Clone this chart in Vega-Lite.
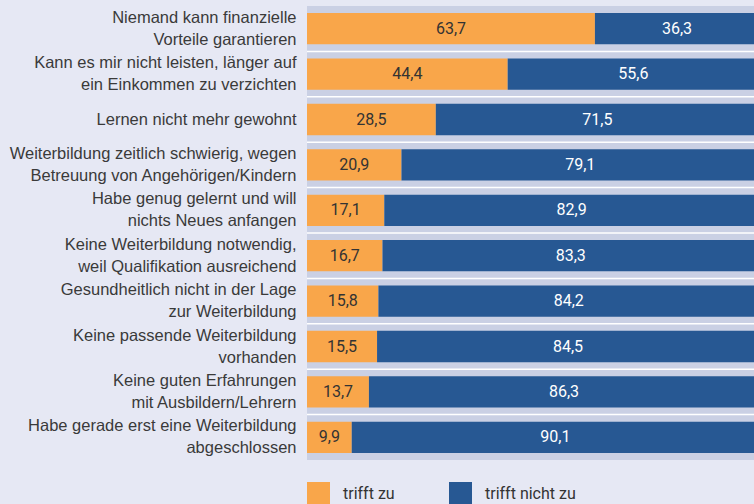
{
  "$schema": "https://vega.github.io/schema/vega-lite/v6.json",
  "width": 452,
  "height": 454,
  "autosize": "none",
  "padding": {"left": 307, "top": 6, "right": 0, "bottom": 44},
  "background": "#e6e8f4",
  "config": {
    "view": {"stroke": null},
    "locale": {"number": {"decimal": ",", "thousands": ".", "grouping": [3], "currency": ["", " €"]}}
  },
  "data": {
    "values": [
      {"label": "Niemand kann finanzielle|Vorteile garantieren", "cat": "trifft zu", "value": 63.7},
      {"label": "Niemand kann finanzielle|Vorteile garantieren", "cat": "trifft nicht zu", "value": 36.3},
      {"label": "Kann es mir nicht leisten, länger auf|ein Einkommen zu verzichten", "cat": "trifft zu", "value": 44.4},
      {"label": "Kann es mir nicht leisten, länger auf|ein Einkommen zu verzichten", "cat": "trifft nicht zu", "value": 55.6},
      {"label": "Lernen nicht mehr gewohnt", "cat": "trifft zu", "value": 28.5},
      {"label": "Lernen nicht mehr gewohnt", "cat": "trifft nicht zu", "value": 71.5},
      {"label": "Weiterbildung zeitlich schwierig, wegen|Betreuung von Angehörigen/Kindern", "cat": "trifft zu", "value": 20.9},
      {"label": "Weiterbildung zeitlich schwierig, wegen|Betreuung von Angehörigen/Kindern", "cat": "trifft nicht zu", "value": 79.1},
      {"label": "Habe genug gelernt und will|nichts Neues anfangen", "cat": "trifft zu", "value": 17.1},
      {"label": "Habe genug gelernt und will|nichts Neues anfangen", "cat": "trifft nicht zu", "value": 82.9},
      {"label": "Keine Weiterbildung notwendig,|weil Qualifikation ausreichend", "cat": "trifft zu", "value": 16.7},
      {"label": "Keine Weiterbildung notwendig,|weil Qualifikation ausreichend", "cat": "trifft nicht zu", "value": 83.3},
      {"label": "Gesundheitlich nicht in der Lage|zur Weiterbildung", "cat": "trifft zu", "value": 15.8},
      {"label": "Gesundheitlich nicht in der Lage|zur Weiterbildung", "cat": "trifft nicht zu", "value": 84.2},
      {"label": "Keine passende Weiterbildung|vorhanden", "cat": "trifft zu", "value": 15.5},
      {"label": "Keine passende Weiterbildung|vorhanden", "cat": "trifft nicht zu", "value": 84.5},
      {"label": "Keine guten Erfahrungen|mit Ausbildern/Lehrern", "cat": "trifft zu", "value": 13.7},
      {"label": "Keine guten Erfahrungen|mit Ausbildern/Lehrern", "cat": "trifft nicht zu", "value": 86.3},
      {"label": "Habe gerade erst eine Weiterbildung|abgeschlossen", "cat": "trifft zu", "value": 9.9},
      {"label": "Habe gerade erst eine Weiterbildung|abgeschlossen", "cat": "trifft nicht zu", "value": 90.1}
    ]
  },
  "encoding": {
    "y": {
      "field": "label",
      "type": "nominal",
      "sort": null,
      "scale": {"paddingInner": 0, "paddingOuter": 0},
      "axis": {
        "title": null,
        "domain": false,
        "ticks": false,
        "grid": false,
        "labelPadding": 11,
        "labelExpr": "split(datum.value, '|')",
        "labelFont": "Liberation Sans",
        "labelFontSize": 16.5,
        "labelColor": "#3a3a3a",
        "labelLineHeight": 22,
        "labelLimit": 400,
        "labelOffset": {"condition": {"test": "indexof(datum.value, '|') >= 0", "value": -11}, "value": 0}
      }
    }
  },
  "layer": [
    {
      "transform": [{"filter": "datum.cat === 'trifft zu'"}],
      "mark": {"type": "bar", "color": "#cad0e4"},
      "encoding": {
        "x": {"datum": 0, "type": "quantitative", "scale": {"domain": [0, 100], "nice": false}, "axis": null},
        "x2": {"datum": 100}
      }
    },
    {
      "transform": [{"filter": "datum.cat === 'trifft zu' && indexof(datum.label, 'Niemand') < 0"}],
      "mark": {"type": "rule", "color": "#ffffff", "strokeWidth": 1.5},
      "encoding": {
        "y": {"field": "label", "type": "nominal", "sort": null, "bandPosition": 0},
        "x": {"datum": 0, "type": "quantitative"},
        "x2": {"datum": 100}
      }
    },
    {
      "mark": {"type": "bar", "height": {"band": 0.69}},
      "encoding": {
        "x": {"field": "value", "type": "quantitative", "stack": "zero"},
        "color": {
          "field": "cat",
          "type": "nominal",
          "scale": {"domain": ["trifft zu", "trifft nicht zu"], "range": ["#f9a64a", "#275893"]},
          "legend": {
            "title": null,
            "orient": "bottom",
            "direction": "horizontal",
            "offset": 22,
            "padding": 0,
            "symbolType": "square",
            "symbolSize": 529,
            "symbolStrokeWidth": 0,
            "labelFont": "Roboto",
            "labelFontSize": 16,
            "labelColor": "#333333",
            "labelOffset": 13,
            "columnPadding": 54
          }
        },
        "order": {"field": "cat", "sort": "descending"}
      }
    },
    {
      "mark": {"type": "text", "font": "Roboto", "fontSize": 16},
      "encoding": {
        "x": {"field": "value", "type": "quantitative", "stack": "zero", "bandPosition": 0.5},
        "detail": {"field": "cat"},
        "order": {"field": "cat", "sort": "descending"},
        "text": {"field": "value", "type": "quantitative", "format": ".1f"},
        "color": {"condition": {"test": "datum.cat === 'trifft zu'", "value": "#333333"}, "value": "#ffffff"}
      }
    }
  ]
}
